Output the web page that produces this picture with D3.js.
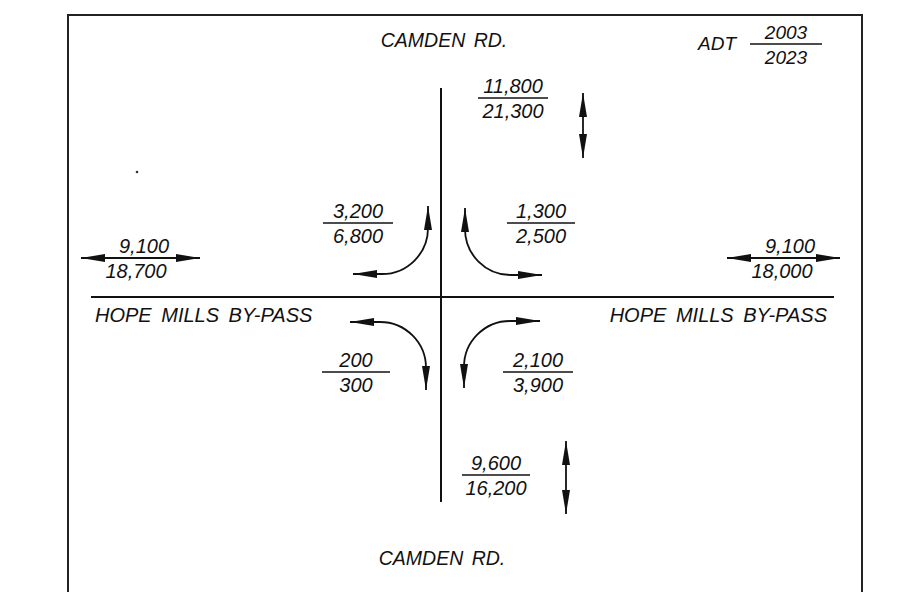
<!DOCTYPE html>
<html>
<head>
    <meta charset="utf-8">
    <title>ADT Hope Mills By-Pass / Camden Rd.</title>
    <script type="text/javascript" src="https://cdn.jsdelivr.net/npm/d3@7/dist/d3.min.js"></script>
    <style type="text/css">
        html, body {
            margin: 0;
            background: #fff;
        }

        svg {
            display: block;
        }

        text {
            font-family: "Liberation Sans", Arial, sans-serif;
            font-style: italic;
            fill: #111;
        }
    </style>
</head>

<body>

<script type="text/javascript">
    // --- data ---
    var roadNames = ["CAMDEN RD.", "HOPE MILLS BY-PASS"];
    var legendLabel = "ADT";
    var legendYears = ["2003", "2023"];

    // through volumes: north leg, south leg, west leg, east leg
    var throughLegs = ["north", "south", "west", "east"];
    var through2003 = [11800, 9600, 9100, 9100];
    var through2023 = [21300, 16200, 18700, 18000];

    // turning volumes by quadrant
    var turnQuads = ["NW", "NE", "SW", "SE"];
    var turn2003 = [3200, 1300, 200, 2100];
    var turn2023 = [6800, 2500, 300, 3900];

    // --- layout (offsets from the intersection centre, px) ---
    var width = 915, height = 592;
    var cx = 441, cy = 297;

    var x = d3.scaleLinear().domain([-cx, width - cx]).range([0, width]);
    var y = d3.scaleLinear().domain([-cy, height - cy]).range([0, height]);

    var legLayout = {
        north: {arrow: [[142, -204], [142, -139]], label: [72, -199], half: 35, line: true},
        south: {arrow: [[125, 144], [125, 217]], label: [55, 178], half: 34, line: true},
        west:  {arrow: [[-360, -39], [-241, -39]], label: [-301, -39], half: 0, line: false, dx: [4, -4]},
        east:  {arrow: [[286, -39], [399, -39]], label: [343, -39], half: 0, line: false, dx: [6, -2]}
    };
    var quadLayout = {
        NW: {a: [-88, -23], c: [-13, -23], b: [-13, -91], label: [-83, -74], half: 35},
        NE: {a: [24, -89], c: [24, -22], b: [101, -22], label: [100, -74], half: 34},
        SW: {a: [-91, 25], c: [-15, 25], b: [-15, 93], label: [-85, 75], half: 34},
        SE: {a: [99, 24], c: [23, 24], b: [23, 91], label: [97, 75], half: 35}
    };
    var arcR = 46;
    var fmt = d3.format(",");

    var svg = d3.select("body").append("svg")
        .attr("width", width)
        .attr("height", height);

    // arrowhead
    svg.append("defs").append("marker")
        .attr("id", "head")
        .attr("viewBox", "0 -5 26 10")
        .attr("refX", 24).attr("refY", 0)
        .attr("markerWidth", 26).attr("markerHeight", 10)
        .attr("markerUnits", "userSpaceOnUse")
        .attr("orient", "auto-start-reverse")
        .append("path")
        .attr("d", "M0,-4L24,0L0,4Z")
        .attr("fill", "#111");

    // frame
    svg.append("path")
        .attr("d", "M" + x(-373) + "," + y(300) + "V" + y(-282) + "H" + x(421) + "V" + y(300))
        .attr("fill", "none")
        .attr("stroke", "#222")
        .attr("stroke-width", 2);

    // roads
    svg.append("line")
        .attr("x1", x(-350)).attr("x2", x(393))
        .attr("y1", y(0)).attr("y2", y(0))
        .attr("stroke", "#111").attr("stroke-width", 2);
    svg.append("line")
        .attr("x1", x(0)).attr("x2", x(0))
        .attr("y1", y(-209)).attr("y2", y(205))
        .attr("stroke", "#111").attr("stroke-width", 2);

    // road names
    svg.append("text").text(roadNames[0])
        .attr("x", x(3)).attr("y", y(-250))
        .attr("text-anchor", "middle").attr("font-size", 19.5).attr("word-spacing", 3);
    svg.append("text").text(roadNames[0])
        .attr("x", x(1)).attr("y", y(268))
        .attr("text-anchor", "middle").attr("font-size", 19.5).attr("word-spacing", 3);
    svg.append("text").text(roadNames[1])
        .attr("x", x(-346)).attr("y", y(25))
        .attr("font-size", 20).attr("word-spacing", 4);
    svg.append("text").text(roadNames[1])
        .attr("x", x(386)).attr("y", y(25))
        .attr("text-anchor", "end").attr("font-size", 20).attr("word-spacing", 4);

    // fraction label helper
    function fraction(g, px, py, half, top, bottom, drawLine, dx, size) {
        dx = dx || [0, 0];
        if (drawLine) {
            g.append("line")
                .attr("x1", x(px - half)).attr("x2", x(px + half))
                .attr("y1", y(py)).attr("y2", y(py))
                .attr("stroke", "#111").attr("stroke-width", 1.6);
        }
        g.append("text").text(top)
            .attr("x", x(px + dx[0])).attr("y", y(py - 5))
            .attr("text-anchor", "middle").attr("font-size", size || 20);
        g.append("text").text(bottom)
            .attr("x", x(px + dx[1])).attr("y", y(py + 20))
            .attr("text-anchor", "middle").attr("font-size", size || 20);
    }

    // through movements
    throughLegs.forEach(function (leg, i) {
        var L = legLayout[leg];
        var g = svg.append("g").attr("class", "leg " + leg);
        g.append("path")
            .attr("d", d3.line().x(function (p) { return x(p[0]); }).y(function (p) { return y(p[1]); })(L.arrow))
            .attr("fill", "none")
            .attr("stroke", "#111").attr("stroke-width", 1.8)
            .attr("marker-start", "url(#head)")
            .attr("marker-end", "url(#head)");
        fraction(g, L.label[0], L.label[1], L.half, fmt(through2003[i]), fmt(through2023[i]), L.line, L.dx);
    });

    // turning movements
    turnQuads.forEach(function (q, i) {
        var Q = quadLayout[q];
        var g = svg.append("g").attr("class", "turn " + q);
        var p = d3.path();
        p.moveTo(x(Q.a[0]), y(Q.a[1]));
        p.arcTo(x(Q.c[0]), y(Q.c[1]), x(Q.b[0]), y(Q.b[1]), arcR);
        p.lineTo(x(Q.b[0]), y(Q.b[1]));
        g.append("path")
            .attr("d", p.toString())
            .attr("fill", "none")
            .attr("stroke", "#111").attr("stroke-width", 1.8)
            .attr("marker-start", "url(#head)")
            .attr("marker-end", "url(#head)");
        fraction(g, Q.label[0], Q.label[1], Q.half, fmt(turn2003[i]), fmt(turn2023[i]), true);
    });

    // legend
    var lg = svg.append("g").attr("class", "legend");
    lg.append("text").text(legendLabel)
        .attr("x", x(257)).attr("y", y(-247))
        .attr("font-size", 19);
    fraction(lg, 345, -253, 36, legendYears[0], legendYears[1], true, [0, 0], 19);

    // stray speck on the original drawing
    svg.append("circle")
        .attr("cx", x(-304)).attr("cy", y(-125))
        .attr("r", 1.3).attr("fill", "#333");
</script>
</body>

</html>
